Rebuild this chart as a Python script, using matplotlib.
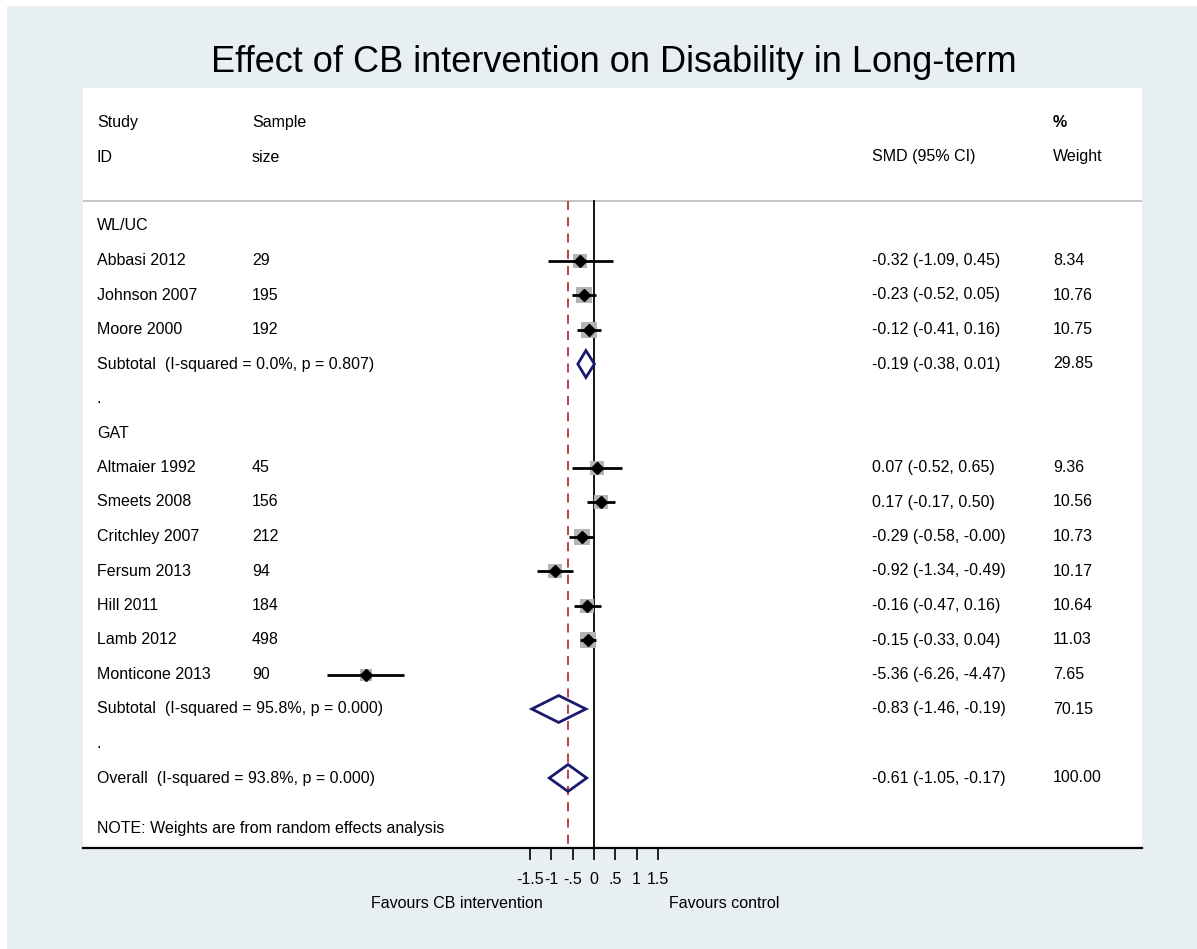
import matplotlib
matplotlib.use("Agg")
import matplotlib.pyplot as plt
from matplotlib.patches import Rectangle, Polygon
import numpy as np

plt.rcParams['font.family'] = ['Liberation Sans', 'DejaVu Sans']

# ---------------- data ----------------
title = "Effect of CB intervention on Disability in Long-term"
group_names = ["WL/UC", "GAT"]
studies = ["Abbasi 2012", "Johnson 2007", "Moore 2000",
           "Altmaier 1992", "Smeets 2008", "Critchley 2007", "Fersum 2013",
           "Hill 2011", "Lamb 2012", "Monticone 2013"]
study_group = [0, 0, 0, 1, 1, 1, 1, 1, 1, 1]
samples = [29, 195, 192, 45, 156, 212, 94, 184, 498, 90]
smd = [-0.32, -0.23, -0.12, 0.07, 0.17, -0.29, -0.92, -0.16, -0.15, -5.36]
ci_lo = [-1.09, -0.52, -0.41, -0.52, -0.17, -0.58, -1.34, -0.47, -0.33, -6.26]
ci_hi = [0.45, 0.05, 0.16, 0.65, 0.50, -0.0, -0.49, 0.16, 0.04, -4.47]
weights = [8.34, 10.76, 10.75, 9.36, 10.56, 10.73, 10.17, 10.64, 11.03, 7.65]

sub_smd = [-0.19, -0.83]
sub_lo = [-0.38, -1.46]
sub_hi = [0.01, -0.19]
sub_w = [29.85, 70.15]
sub_i2 = ["0.0%", "95.8%"]
sub_p = ["0.807", "0.000"]

overall_smd = -0.61
overall_lo = -1.05
overall_hi = -0.17
overall_w = 100.00
overall_i2 = "93.8%"
overall_p = "0.000"

tick_vals = [-1.5, -1, -0.5, 0, 0.5, 1, 1.5]
tick_labels = ["-1.5", "-1", "-.5", "0", ".5", "1", "1.5"]

# ---------------- figure ----------------
W, H = 1197, 949
fig = plt.figure(figsize=(W / 100, H / 100), dpi=100)
fig.patch.set_facecolor("white")
bg = Rectangle((7 / W, -0.01), 1.0, (H - 6) / H + 0.01, transform=fig.transFigure,
               facecolor="#e8eff2", edgecolor="none", zorder=-5)
fig.patches.append(bg)

px_left, px_right, px_top, px_bot = 83, 1142, 88, 848
ax = fig.add_axes([px_left / W, (H - px_bot) / H,
                   (px_right - px_left) / W, (px_bot - px_top) / H])
ax.set_zorder(2)
ax.set_facecolor("white")
zero_px, unit_px = 594, 42.6
ax.set_xlim((px_left - zero_px) / unit_px, (px_right - zero_px) / unit_px)
row0_px, row_px = 226, 34.5
ax.set_ylim((px_bot - row0_px) / row_px, (px_top - row0_px) / row_px)

for s in ["top", "left", "right"]:
    ax.spines[s].set_visible(False)
ax.spines["bottom"].set_linewidth(1.6)
ax.spines["bottom"].set_color("black")
ax.set_yticks([])
ax.set_xticks(tick_vals)
ax.set_xticklabels(tick_labels)
ax.tick_params(axis="x", direction="out", length=8.5, width=1.2,
               pad=8.5, labelsize=11.5, colors="black")

fs = 11.5
tr = ax.get_yaxis_transform()  # x in axes fraction, y in data


def colx(px):
    return (px - px_left) / (px_right - px_left)


x_study, x_sample, x_smd, x_w = colx(97), colx(252), colx(872), colx(1053)

# header
ax.text(x_study, -3, "Study", transform=tr, fontsize=fs, va="center")
ax.text(x_study, -2, "ID", transform=tr, fontsize=fs, va="center")
ax.text(x_sample, -3, "Sample", transform=tr, fontsize=fs, va="center")
ax.text(x_sample, -2, "size", transform=tr, fontsize=fs, va="center")
ax.text(x_smd, -2, "SMD (95% CI)", transform=tr, fontsize=fs, va="center")
ax.text(x_w, -3, "%", transform=tr, fontsize=fs, va="center", fontweight="bold")
ax.text(x_w, -2, "Weight", transform=tr, fontsize=fs, va="center")

sep_y = (201 - row0_px) / row_px
ax.plot([0, 1], [sep_y, sep_y], transform=tr, color="#c0c0c0", lw=1.3)

bottom_y = (px_bot - row0_px) / row_px
ax.plot([0, 0], [sep_y, bottom_y], color="black", lw=1.3, zorder=2)
ax.plot([overall_smd, overall_smd], [sep_y, bottom_y], color="#b5313a",
        lw=1.3, dashes=(5, 4), zorder=2)

navy = "#1a1a6e"
dh = 0.39


def diamond(est, lo, hi, r):
    poly = Polygon([(lo, r), (est, r - dh), (hi, r), (est, r + dh)],
                   closed=True, facecolor="none", edgecolor=navy, lw=2.0,
                   zorder=4)
    ax.add_patch(poly)


row = 0
for g, gname in enumerate(group_names):
    if g > 0:
        ax.text(x_study, row, ".", transform=tr, fontsize=fs, va="center")
        row += 1
    ax.text(x_study, row, gname, transform=tr, fontsize=fs, va="center")
    row += 1
    for i in range(len(studies)):
        if study_group[i] != g:
            continue
        ax.text(x_study, row, studies[i], transform=tr, fontsize=fs, va="center")
        ax.text(x_sample, row, str(samples[i]), transform=tr, fontsize=fs, va="center")
        ax.text(x_smd, row, f"{smd[i]:.2f} ({ci_lo[i]:.2f}, {ci_hi[i]:.2f})",
                transform=tr, fontsize=fs, va="center")
        ax.text(x_w, row, f"{weights[i]:.2f}", transform=tr, fontsize=fs, va="center")
        ax.plot(smd[i], row, marker="s", markersize=3.3 * np.sqrt(weights[i]),
                color="#b4b4b4", markeredgewidth=0, zorder=3)
        ax.plot([ci_lo[i], ci_hi[i]], [row, row], color="black", lw=2.0,
                solid_capstyle="butt", zorder=4)
        ax.plot(smd[i], row, marker="D", markersize=6.5, color="black", zorder=5)
        row += 1
    ax.text(x_study, row, f"Subtotal  (I-squared = {sub_i2[g]}, p = {sub_p[g]})",
            transform=tr, fontsize=fs, va="center")
    ax.text(x_smd, row, f"{sub_smd[g]:.2f} ({sub_lo[g]:.2f}, {sub_hi[g]:.2f})",
            transform=tr, fontsize=fs, va="center")
    ax.text(x_w, row, f"{sub_w[g]:.2f}", transform=tr, fontsize=fs, va="center")
    diamond(sub_smd[g], sub_lo[g], sub_hi[g], row)
    row += 1

ax.text(x_study, row, ".", transform=tr, fontsize=fs, va="center")
row += 1
ax.text(x_study, row, f"Overall  (I-squared = {overall_i2}, p = {overall_p})",
        transform=tr, fontsize=fs, va="center")
ax.text(x_smd, row, f"{overall_smd:.2f} ({overall_lo:.2f}, {overall_hi:.2f})",
        transform=tr, fontsize=fs, va="center")
ax.text(x_w, row, f"{overall_w:.2f}", transform=tr, fontsize=fs, va="center")
diamond(overall_smd, overall_lo, overall_hi, row)

note_y = (829 - row0_px) / row_px
ax.text(x_study, note_y, "NOTE: Weights are from random effects analysis",
        transform=tr, fontsize=fs, va="center")

# title and favours labels
fig.text(614 / W, (H - 62) / H, title, fontsize=26, ha="center", va="center")
fig.text(457 / W, (H - 904) / H, "Favours CB intervention", fontsize=fs,
         ha="center", va="center")
fig.text(724 / W, (H - 904) / H, "Favours control", fontsize=fs,
         ha="center", va="center")

fig.savefig("out.png", dpi=100, facecolor=fig.get_facecolor())
